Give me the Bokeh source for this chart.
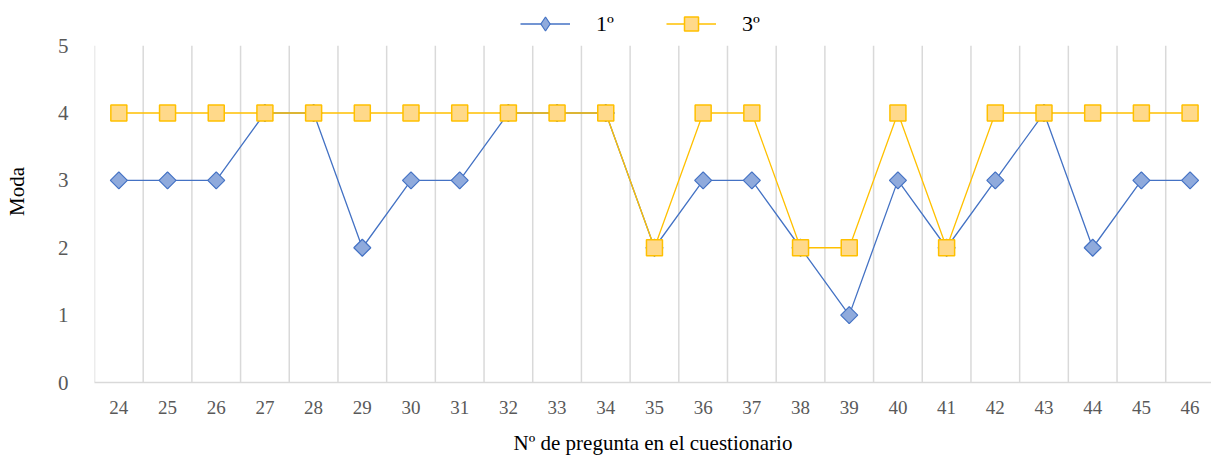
import math
from bokeh.plotting import figure
from bokeh.models import Range1d, FixedTicker, Legend, LegendItem
from bokeh.embed import file_html
from bokeh.resources import INLINE

preguntas = list(range(24, 47))
primero = [3, 3, 3, 4, 4, 2, 3, 3, 4, 4, 4, 2, 3, 3, 2, 1, 3, 2, 3, 4, 2, 3, 3]
tercero = [4, 4, 4, 4, 4, 4, 4, 4, 4, 4, 4, 2, 4, 4, 2, 2, 4, 2, 4, 4, 4, 4, 4]
y_ticks = [0, 1, 2, 3, 4, 5]

FONT = "Liberation Serif"

p = figure(width=1211, height=457, output_backend="svg", toolbar_location=None,
           x_range=Range1d(23.5, 46.44), y_range=Range1d(0, 5.67),
           min_border_left=94, min_border_right=0, min_border_top=0, min_border_bottom=75)
p.outline_line_color = None
p.background_fill_color = "white"
p.border_fill_color = "white"

p.xgrid.visible = False
p.ygrid.visible = False
boundaries = [preguntas[0] - 0.5 + i for i in range(len(preguntas) + 1)]
p.segment(x0=boundaries, y0=[y_ticks[0]] * len(boundaries),
          x1=boundaries, y1=[y_ticks[-1]] * len(boundaries),
          line_color="#d9d9d9", line_width=1.5)

xa = p.xaxis[0]
xa.ticker = FixedTicker(ticks=preguntas)
xa.axis_line_color = "#d9d9d9"
xa.axis_line_width = 1.5
xa.major_tick_line_color = None
xa.minor_tick_line_color = None
xa.major_label_text_font = FONT
xa.major_label_text_font_size = "19px"
xa.major_label_text_color = "#595959"
xa.major_label_standoff = 12
xa.axis_label = "Nº de pregunta en el cuestionario"
xa.axis_label_text_font = FONT
xa.axis_label_text_font_size = "21px"
xa.axis_label_text_font_style = "normal"
xa.axis_label_text_color = "#000000"
xa.axis_label_standoff = 14

ya = p.yaxis[0]
ya.ticker = FixedTicker(ticks=y_ticks)
ya.axis_line_color = None
ya.major_tick_line_color = None
ya.minor_tick_line_color = None
ya.major_label_text_font = FONT
ya.major_label_text_font_size = "21px"
ya.major_label_text_color = "#595959"
ya.major_label_standoff = 20
ya.axis_label = "Moda"
ya.axis_label_text_font = FONT
ya.axis_label_text_font_size = "21px"
ya.axis_label_text_font_style = "normal"
ya.axis_label_text_color = "#000000"
ya.axis_label_standoff = 26

l1 = p.line(preguntas, primero, line_color="#4472c4", line_width=1.3)
# diamond used for the legend entry; hidden beneath the rotated squares below
d1 = p.scatter(preguntas, primero, marker="diamond", size=16,
               fill_color="#8faadc", line_color="#4472c4", line_width=1.2)
s1 = p.scatter(preguntas, primero, marker="square", angle=math.pi / 4, size=12,
               fill_color="#8faadc", line_color="#4472c4", line_width=1.2)
l3 = p.line(preguntas, tercero, line_color="#ffc000", line_width=1.3)
s3 = p.scatter(preguntas, tercero, marker="square", size=16,
               fill_color="#ffd98a", line_color="#ffc000", line_width=1.5)

legend = Legend(items=[LegendItem(label="1º", renderers=[l1, d1]),
                       LegendItem(label="3º", renderers=[l3, s3])],
                orientation="horizontal", location=(426, 341),
                glyph_width=50, glyph_height=35, label_standoff=26, spacing=50,
                label_text_font=FONT, label_text_font_size="22px", label_text_color="#000000",
                background_fill_alpha=0, border_line_color=None, padding=0, margin=0)
p.add_layout(legend, "center")

open("out.html", "w").write(file_html(p, INLINE))
